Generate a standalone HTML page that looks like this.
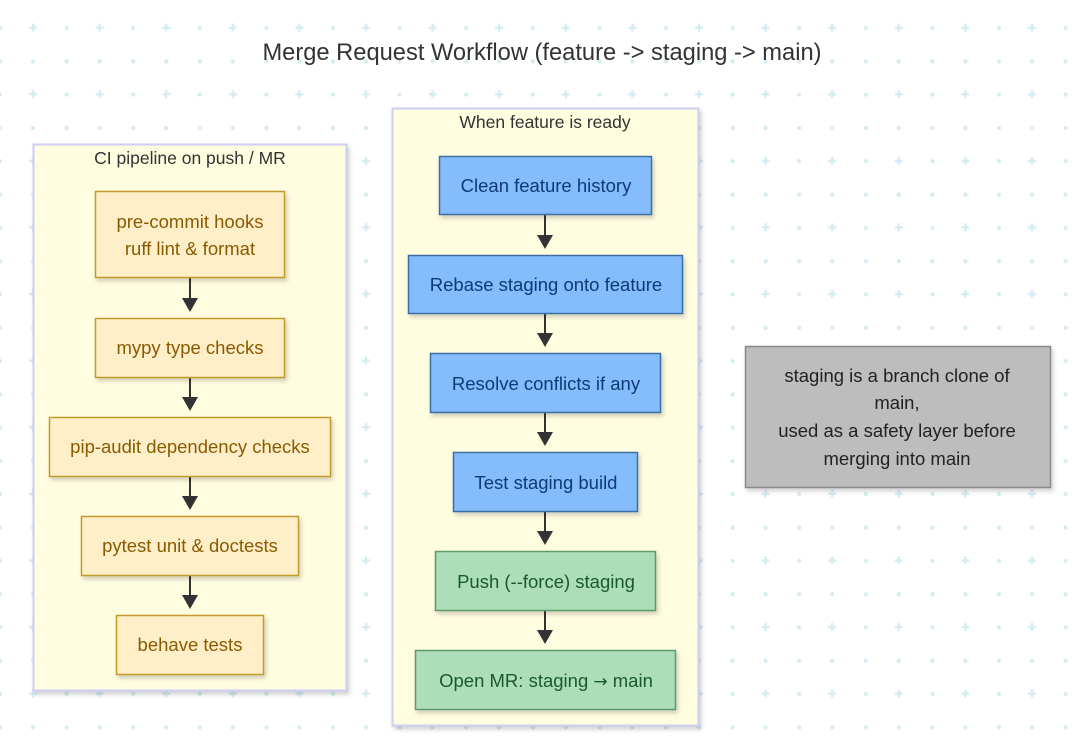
<!DOCTYPE html>
<html><head><meta charset="utf-8"><style>
html,body{margin:0;padding:0;background:#fff;}
svg{display:block;font-family:"Liberation Sans",Arial,sans-serif;}
</style></head><body>
<svg width="1091" height="756" viewBox="0 0 1091 756" xmlns="http://www.w3.org/2000/svg">
<defs>
<pattern id="bg" x="0" y="-5" width="66.6" height="66.6" patternUnits="userSpaceOnUse">
<g fill="#d4ecf2">
<rect x="29" y="31.5" width="8" height="2.4"/><rect x="31.8" y="28.5" width="2.4" height="8"/>
<circle cx="0" cy="33" r="2"/><circle cx="66.6" cy="33" r="2"/>
<circle cx="0" cy="66.3" r="2"/><circle cx="33" cy="66.3" r="2"/><circle cx="66.6" cy="66.3" r="2"/>
<circle cx="0" cy="0" r="2"/><circle cx="33" cy="0" r="2"/><circle cx="66.6" cy="0" r="2"/>
</g>
</pattern>
<filter id="sh" x="-10%" y="-10%" width="130%" height="140%"><feDropShadow dx="2" dy="3" stdDeviation="2" flood-color="#000" flood-opacity="0.18"/></filter>
</defs>
<rect width="1091" height="756" fill="url(#bg)"/>
<text x="542" y="60" text-anchor="middle" font-size="23.7" fill="#333">Merge Request Workflow (feature -&gt; staging -&gt; main)</text>

<rect x="33.5" y="144.5" width="313" height="546" fill="#fffde0" stroke="#cdcdf5" stroke-width="2" filter="url(#sh)"/>
<text x="190" y="164" text-anchor="middle" font-size="17.5" fill="#333">CI pipeline on push / MR</text>

<rect x="392.5" y="108.5" width="306" height="617" fill="#fffde0" stroke="#cdcdf5" stroke-width="2" filter="url(#sh)"/>
<text x="545" y="128" text-anchor="middle" font-size="17.5" fill="#333">When feature is ready</text>

<g stroke="#333" stroke-width="2" fill="none">
<path d="M190 278V309"/><path d="M190 378V408"/><path d="M190 477V507"/><path d="M190 576V606"/>
<path d="M545 215V246"/><path d="M545 314V344"/><path d="M545 413V443"/><path d="M545 512V542"/><path d="M545 611V641"/>
</g>
<g fill="#333">
<path d="M182 298h16l-8 14z"/><path d="M182 397h16l-8 14z"/><path d="M182 496h16l-8 14z"/><path d="M182 595h16l-8 14z"/>
<path d="M537 235h16l-8 14z"/><path d="M537 333h16l-8 14z"/><path d="M537 432h16l-8 14z"/><path d="M537 531h16l-8 14z"/><path d="M537 630h16l-8 14z"/>
</g>

<g fill="#ffefc8" stroke="#c29a2a" stroke-width="1.5" filter="url(#sh)">
<rect x="95.5" y="191.5" width="189" height="86"/>
<rect x="95.5" y="318.5" width="189" height="59"/>
<rect x="49.5" y="417.5" width="281" height="59"/>
<rect x="81.5" y="516.5" width="217" height="59"/>
<rect x="116.5" y="615.5" width="147" height="59"/>
</g>
<g font-size="18.5" fill="#8a5a00" text-anchor="middle">
<text x="190" y="228">pre-commit hooks</text>
<text x="190" y="255">ruff lint &amp; format</text>
<text x="190" y="354">mypy type checks</text>
<text x="190" y="453">pip-audit dependency checks</text>
<text x="190" y="552">pytest unit &amp; doctests</text>
<text x="190" y="651">behave tests</text>
</g>

<g fill="#84bcfc" stroke="#3d6ea6" stroke-width="1.5" filter="url(#sh)">
<rect x="439.5" y="156.5" width="212" height="58"/>
<rect x="408.5" y="255.5" width="274" height="58"/>
<rect x="430.5" y="353.5" width="230" height="59"/>
<rect x="453.5" y="452.5" width="184" height="59"/>
</g>
<g fill="#acdfb8" stroke="#5e9a6c" stroke-width="1.5" filter="url(#sh)">
<rect x="435.5" y="551.5" width="220" height="59"/>
<rect x="415.5" y="650.5" width="260" height="59"/>
</g>
<g font-size="18.5" fill="#0e3a78" text-anchor="middle">
<text x="546" y="192">Clean feature history</text>
<text x="546" y="291">Rebase staging onto feature</text>
<text x="546" y="390">Resolve conflicts if any</text>
<text x="546" y="489">Test staging build</text>
</g>
<g font-size="18.5" fill="#1a5a2a" text-anchor="middle">
<text x="546" y="588">Push (--force) staging</text>
<text x="546" y="687">Open MR: staging <tspan font-family="DejaVu Sans" font-size="17">→</tspan> main</text>
</g>

<rect x="745.5" y="346.5" width="305" height="141" fill="#bdbdbd" stroke="#8a8a8a" stroke-width="1.5" filter="url(#sh)"/>
<g font-size="18.5" fill="#222" text-anchor="middle">
<text x="897" y="382">staging is a branch clone of</text>
<text x="897" y="409">main,</text>
<text x="897" y="437">used as a safety layer before</text>
<text x="897" y="465">merging into main</text>
</g>
</svg>
</body></html>
